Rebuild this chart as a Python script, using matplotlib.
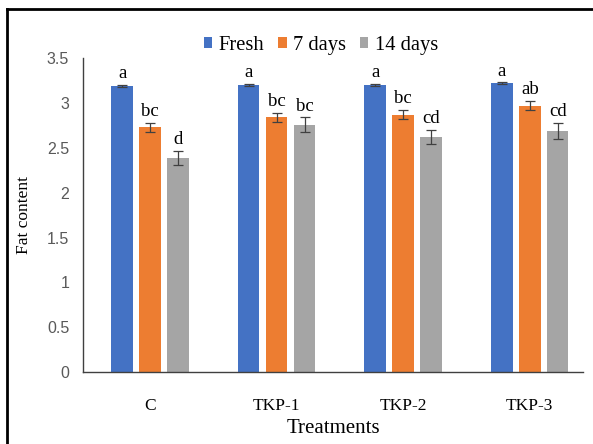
import matplotlib
matplotlib.use("Agg")
import matplotlib.pyplot as plt
from matplotlib.lines import Line2D
import numpy as np

treatments = ["C", "TKP-1", "TKP-2", "TKP-3"]
series_names = ["Fresh", "7 days", "14 days"]
fresh = [3.19, 3.20, 3.20, 3.22]
days7 = [2.73, 2.84, 2.87, 2.97]
days14 = [2.39, 2.76, 2.62, 2.69]
err_fresh = [0.01, 0.01, 0.01, 0.01]
err_7 = [0.05, 0.05, 0.05, 0.05]
err_14 = [0.08, 0.08, 0.08, 0.09]
letters_fresh = ["a", "a", "a", "a"]
letters_7 = ["bc", "bc", "bc", "ab"]
letters_14 = ["d", "bc", "cd", "cd"]
yticks = [0, 0.5, 1, 1.5, 2, 2.5, 3, 3.5]
ytick_labels = ["0", "0.5", "1", "1.5", "2", "2.5", "3", "3.5"]

colors = ["#4472C4", "#ED7D31", "#A5A5A5"]
serif = "Liberation Serif"

fig = plt.figure(figsize=(5.93, 4.44), dpi=100)
ax = fig.add_axes([0.14, 0.162, 0.843, 0.707])

x = np.arange(len(treatments))
width = 0.17
offset = 0.221
data = [fresh, days7, days14]
errs = [err_fresh, err_7, err_14]
letters = [letters_fresh, letters_7, letters_14]

for i, (vals, e, lab, col, name) in enumerate(zip(data, errs, letters, colors, series_names)):
    pos = x + (i - 1) * offset
    ax.bar(pos, vals, width, color=col, label=name, zorder=2)
    ax.errorbar(pos, vals, yerr=e, fmt="none", ecolor="#404040", elinewidth=0.9,
                capsize=3.5, capthick=0.9, zorder=3)
    for p, v, ee, t in zip(pos, vals, e, lab):
        ax.annotate(t, (p, v + ee), xytext=(0, 2), textcoords="offset points",
                    ha="center", va="bottom", fontsize=13.5, family=serif, color="black")

ax.set_xlim(-0.53, 3.42)
ax.set_ylim(0, 3.5)
ax.set_yticks(yticks)
ax.set_yticklabels(ytick_labels, fontsize=11.5, family="Liberation Sans", color="#595959")
ax.set_xticks(x)
ax.set_xticklabels(treatments, fontsize=12.5, family=serif, color="black")
ax.tick_params(axis="x", length=0, pad=19)
ax.tick_params(axis="y", length=0, pad=10)
for s in ["top", "right"]:
    ax.spines[s].set_visible(False)
ax.spines["left"].set_color("#404040")
ax.spines["bottom"].set_color("#404040")
ax.spines["left"].set_linewidth(1.0)
ax.spines["bottom"].set_linewidth(1.0)

ax.set_ylabel("Fat content", fontsize=12.5, family=serif, labelpad=11)
ax.set_xlabel("Treatments", fontsize=15, family=serif, labelpad=3)

leg = ax.legend(loc="lower center", bbox_to_anchor=(0.476, 1.01), ncol=3, frameon=False,
                prop={"family": serif, "size": 14.8}, handlelength=0.4, handleheight=0.4,
                handletextpad=0.3, columnspacing=0.7, borderaxespad=0, borderpad=0)

# outer frame (top and left edges)
fig.add_artist(Line2D([7 / 593, 7 / 593], [0, 1 - 9 / 444], transform=fig.transFigure,
                      color="black", linewidth=2))
fig.add_artist(Line2D([7 / 593, 1], [1 - 9 / 444, 1 - 9 / 444], transform=fig.transFigure,
                      color="black", linewidth=2))

fig.savefig("out.png", dpi=100)
